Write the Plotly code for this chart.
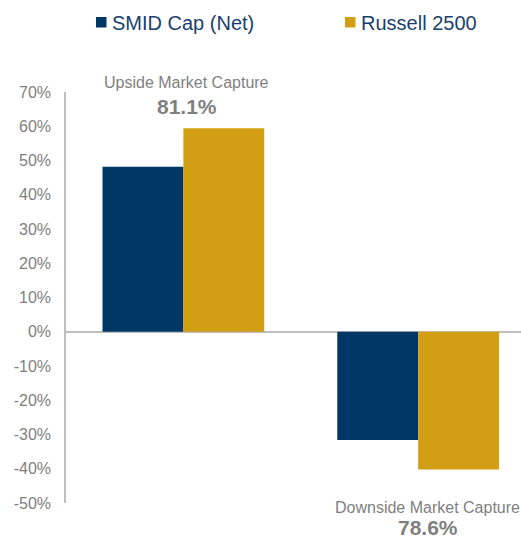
import plotly.graph_objects as go

categories = ["Upside", "Downside"]
smid_values = [48.2, -31.6]
russell_values = [59.4, -40.2]
series_names = ["SMID Cap (Net)", "Russell 2500"]
capture_labels = ["Upside Market Capture", "Downside Market Capture"]
capture_values = ["81.1%", "78.6%"]
tick_values = [70, 60, 50, 40, 30, 20, 10, 0, -10, -20, -30, -40, -50]
tick_labels = [f"{v}%" for v in tick_values]

NAVY = "#003764"
GOLD = "#D19E14"
GRAY = "#7f7f7f"
AXIS = "#bfbfbf"
FONT = "Liberation Sans, Arial, sans-serif"

fig = go.Figure()
fig.add_trace(go.Bar(x=categories, y=smid_values, name=series_names[0],
                     marker=dict(color=NAVY, line=dict(width=0))))
fig.add_trace(go.Bar(x=categories, y=russell_values, name=series_names[1],
                     marker=dict(color=GOLD, line=dict(width=0))))

# legend drawn as squares + text (compact, like the original)
def px_x(px):
    return (px - 66) / 455.0

def px_y(py):
    return (503 - py) / 411.0

shapes = []
annotations = []
legend_colors = [NAVY, GOLD]
legend_sq_x = [96, 345]
legend_txt_x = [110, 359]
for name, col, sx, tx in zip(series_names, legend_colors, legend_sq_x, legend_txt_x):
    shapes.append(dict(type="rect", xref="paper", yref="paper",
                       x0=px_x(sx), x1=px_x(sx + 10.5), y0=px_y(27.5), y1=px_y(17),
                       fillcolor=col, line=dict(width=0)))
    annotations.append(dict(text=name, xref="paper", yref="paper",
                            x=px_x(tx), y=px_y(22.5), xanchor="left", yanchor="middle",
                            showarrow=False, font=dict(size=20, color="#1b3f6b", family=FONT)))

# capture annotations
cap_label_y = [83, 507]
cap_value_y = [107, 527]
cap_shift = [3.5, 9.5]
for i, cat in enumerate(categories):
    annotations.append(dict(text=capture_labels[i], xref="x", yref="paper",
                            x=cat, y=px_y(cap_label_y[i]), xshift=cap_shift[i],
                            xanchor="center", yanchor="middle", showarrow=False,
                            font=dict(size=16, color=GRAY, family=FONT)))
    annotations.append(dict(text="<b>" + capture_values[i] + "</b>", xref="x", yref="paper",
                            x=cat, y=px_y(cap_value_y[i]), xshift=cap_shift[i],
                            xanchor="center", yanchor="middle", showarrow=False,
                            font=dict(size=21, color=GRAY, family=FONT)))

fig.update_layout(
    width=521, height=538,
    margin=dict(l=66, r=0, t=92, b=35, pad=0),
    paper_bgcolor="white", plot_bgcolor="white",
    barmode="group", bargap=0.311, bargroupgap=0,
    showlegend=False,
    shapes=shapes, annotations=annotations,
    font=dict(family=FONT, color=GRAY),
    xaxis=dict(type="category", range=[-0.5, 1.438], showticklabels=False,
               showgrid=False, showline=False, zeroline=False, ticks=""),
    yaxis=dict(range=[-50, 70], tickmode="array", tickvals=tick_values, ticktext=tick_labels,
               showgrid=False, showline=True, linecolor=AXIS, linewidth=1.5,
               zeroline=True, zerolinecolor=AXIS, zerolinewidth=1.5,
               ticks="", ticklabelstandoff=10,
               tickfont=dict(size=16, color=GRAY, family=FONT)),
)

fig.write_html("out.html", config={"displayModeBar": False},
               post_script="document.body.style.margin='0';document.body.style.overflow='hidden';")
